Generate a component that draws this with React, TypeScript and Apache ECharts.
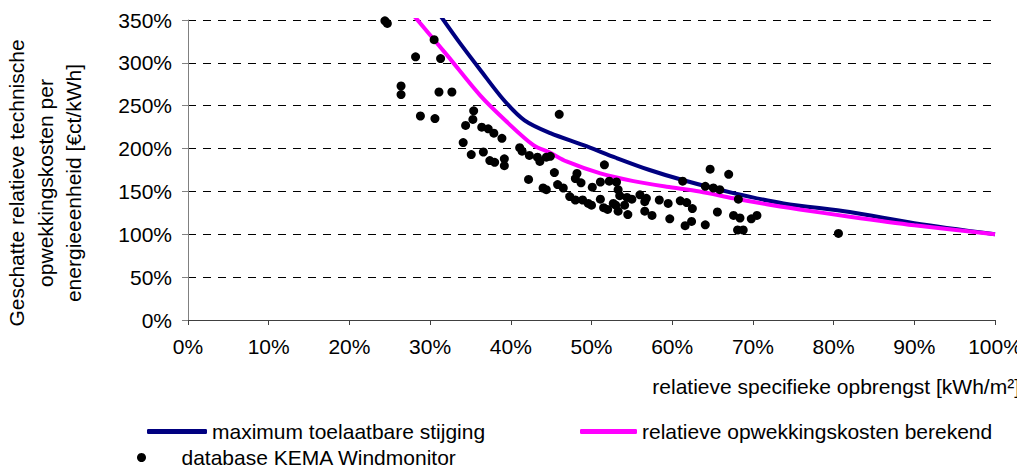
import React, { useEffect, useRef } from "react";
import * as echarts from "echarts";

// Relative specific yield (x, %) vs relative generation cost (y, %) per turbine
const windmonitorPoints: [number, number][] = [
  [24.4, 349], [24.7, 346], [28.2, 307], [30.5, 327], [31.3, 305],
  [26.4, 273], [26.4, 263], [31.1, 266], [32.7, 266], [28.8, 238],
  [30.6, 235], [35.4, 244], [35.3, 234], [34.4, 227], [36.4, 225],
  [37.2, 223], [37.9, 218], [38.9, 212], [34.1, 207], [35.1, 193],
  [36.6, 196], [37.4, 186], [38.0, 184], [39.2, 188], [39.2, 180],
  [41.1, 201], [41.4, 197], [42.3, 192], [43.3, 190], [43.6, 185],
  [44.4, 190], [44.9, 191], [42.2, 164], [44.0, 154], [44.4, 152],
  [45.4, 172], [45.8, 158], [46.5, 154], [46.0, 240], [47.3, 144],
  [48.0, 140], [48.9, 140], [48.2, 171], [48.0, 165], [48.7, 160],
  [49.6, 136], [50.0, 134], [50.1, 155], [51.1, 161], [52.2, 162],
  [53.1, 161], [51.6, 181], [51.1, 141], [51.5, 131], [52.0, 129],
  [52.7, 136], [53.3, 152], [53.5, 145], [53.0, 134], [53.3, 127],
  [54.1, 134], [54.4, 143], [54.5, 123], [55.0, 141], [56.0, 146],
  [56.8, 142], [56.6, 138], [56.6, 127], [57.5, 122], [58.4, 140],
  [59.5, 136], [59.7, 118], [61.0, 139], [61.8, 137], [62.5, 130],
  [61.3, 162], [61.6, 110], [62.4, 115], [64.1, 111], [64.1, 156],
  [65.1, 154], [65.9, 152], [64.7, 176], [67.0, 170], [65.6, 126],
  [68.2, 141], [67.6, 122], [68.4, 119], [68.1, 105], [68.8, 105],
  [69.8, 118], [70.5, 122], [80.6, 101],
];

// Maximum allowable cost increase
const maxIncreaseCurve: [number, number][] = [
  [31.2, 356], [33.7, 323], [36.2, 292], [39.1, 257], [41.7, 233],
  [44.9, 218], [49.0, 204], [53.1, 189], [57.2, 175], [61.4, 163],
  [67.6, 148], [73.8, 136], [82.0, 126], [90.0, 113], [100, 100],
];

// Calculated relative generation cost
const calculatedCostCurve: [number, number][] = [
  [27.9, 356], [32.1, 309], [36.2, 262], [39.3, 233], [42.8, 204],
  [44.9, 195], [46.9, 185], [51.1, 171], [55.2, 162], [59.3, 155.5],
  [63.4, 150], [67.6, 142], [71.7, 135], [75.8, 129], [82.0, 120.5],
  [90.0, 110.5], [100, 100],
];

const seriesNames = [
  "maximum toelaatbare stijging",
  "relatieve opwekkingskosten berekend",
  "database KEMA Windmonitor",
];

const yAxisTitle = [
  "Geschatte relatieve technische",
  "opwekkingskosten per",
  "energieeenheid [€ct/kWh]",
];
const xAxisTitle = "relatieve specifieke opbrengst [kWh/m²]";

const FONT = "'Liberation Sans', Arial, sans-serif";
const FS = 21;

export default function App() {
  const ref = useRef<HTMLDivElement>(null);

  useEffect(() => {
    if (!ref.current) return;
    const chart = echarts.init(ref.current, undefined, { renderer: "svg" });
    const legendText = { fontFamily: FONT, fontSize: FS, color: "#000" };
    chart.setOption({
      animation: false,
      backgroundColor: "#fff",
      grid: { left: 188, right: 30, top: 20, bottom: 155 },
      xAxis: {
        type: "value",
        min: 0,
        max: 100,
        interval: 10,
        axisLine: { lineStyle: { color: "#404040", width: 1 } },
        axisTick: { show: true, length: 5, lineStyle: { color: "#404040" } },
        axisLabel: {
          formatter: "{value}%",
          margin: 16,
          fontFamily: FONT,
          fontSize: FS,
          color: "#000",
        },
        splitLine: { show: false },
      },
      yAxis: {
        type: "value",
        min: 0,
        max: 350,
        interval: 50,
        axisLine: { show: true, lineStyle: { color: "#808080", width: 1 } },
        axisTick: { show: true, length: 6, lineStyle: { color: "#808080" } },
        axisLabel: {
          formatter: "{value}%",
          margin: 16,
          fontFamily: FONT,
          fontSize: FS,
          color: "#000",
        },
        splitLine: {
          show: true,
          lineStyle: { color: "#000", width: 1, type: [8, 7] },
        },
      },
      legend: [
        {
          data: [{ name: seriesNames[0], icon: "roundRect" }],
          left: 142,
          top: 416,
          itemWidth: 60,
          itemHeight: 5,
          textStyle: legendText,
        },
        {
          data: [{ name: seriesNames[1], icon: "roundRect" }],
          left: 575,
          top: 416,
          itemWidth: 57,
          itemHeight: 5,
          textStyle: legendText,
        },
        {
          data: [{ name: seriesNames[2], icon: "circle" }],
          left: 132,
          top: 442,
          itemWidth: 70,
          itemHeight: 9,
          textStyle: legendText,
        },
      ],
      graphic: [
        {
          type: "text",
          x: 45,
          y: 183,
          rotation: Math.PI / 2,
          style: {
            text: yAxisTitle.join("\n"),
            font: `${FS}px ${FONT}`,
            fill: "#000",
            align: "center",
            verticalAlign: "middle",
            lineHeight: 28.5,
          },
        },
        {
          type: "text",
          right: 5,
          top: 376,
          style: {
            text: xAxisTitle,
            font: `${FS}px ${FONT}`,
            fill: "#000",
          },
        },
      ],
      series: [
        {
          name: seriesNames[0],
          type: "line",
          data: maxIncreaseCurve,
          smooth: 0.3,
          symbol: "none",
          clip: true,
          itemStyle: { color: "#000080" },
          lineStyle: { color: "#000080", width: 4 },
          z: 3,
        },
        {
          name: seriesNames[1],
          type: "line",
          data: calculatedCostCurve,
          smooth: 0.3,
          symbol: "none",
          clip: true,
          itemStyle: { color: "#ff00ff" },
          lineStyle: { color: "#ff00ff", width: 4 },
          z: 3,
        },
        {
          name: seriesNames[2],
          type: "scatter",
          data: windmonitorPoints,
          symbol: "circle",
          symbolSize: 9,
          itemStyle: { color: "#000", opacity: 1 },
          z: 4,
        },
      ],
    });
    return () => chart.dispose();
  }, []);

  return <div ref={ref} style={{ width: 1025, height: 475, margin: -8 }} />;
}
